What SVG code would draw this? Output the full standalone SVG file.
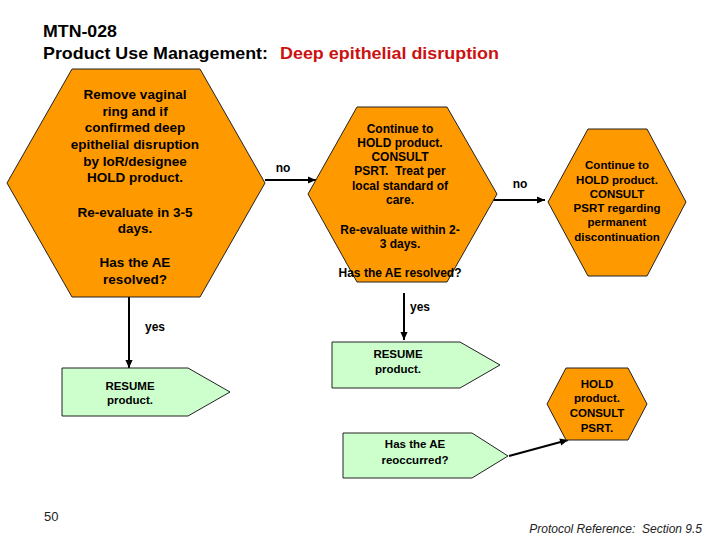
<svg xmlns="http://www.w3.org/2000/svg" width="720" height="540" viewBox="0 0 720 540">
<style>
.hex{fill:#FF9900;stroke:#222;stroke-width:1}
.pent{fill:#CCFFCC;stroke:#222;stroke-width:1}
.t{font-family:"Liberation Sans",Arial,sans-serif;font-weight:bold;fill:#000;text-anchor:middle}
.h1{font-size:13.5px}
.h2{font-size:12px}
.s{font-size:11.5px}
.lbl{font-family:"Liberation Sans",Arial,sans-serif;font-weight:bold;font-size:12px;fill:#000}
.title{font-family:"Liberation Sans",Arial,sans-serif;font-weight:bold;font-size:17px;fill:#000}
.conn{stroke:#000;stroke-width:2;fill:none}
</style>
<defs>
<marker id="ah" viewBox="0 0 10 10" refX="10" refY="5" markerWidth="9" markerHeight="8" markerUnits="userSpaceOnUse" orient="auto">
<path d="M0,0.5 L10,5 L0,9.5 z" fill="#000"/>
</marker>
</defs>
<rect width="720" height="540" fill="#fff"/>
<g id="title">
<text class="title" x="43" y="37" textLength="74" lengthAdjust="spacingAndGlyphs">MTN-028</text>
<text class="title" x="43" y="59" textLength="225" lengthAdjust="spacingAndGlyphs">Product Use Management:</text>
<text class="title" x="280" y="59" fill="#CC1111" style="fill:#CC1111" textLength="219" lengthAdjust="spacingAndGlyphs">Deep epithelial disruption</text>
</g>
<g id="connectors">
<line class="conn" x1="265" y1="180" x2="316" y2="180" marker-end="url(#ah)"/>
<line class="conn" x1="487" y1="200" x2="545" y2="200" marker-end="url(#ah)"/>
<line class="conn" x1="129" y1="297" x2="129" y2="368" marker-end="url(#ah)"/>
<line class="conn" x1="404" y1="293" x2="404" y2="340" marker-end="url(#ah)"/>
<line class="conn" x1="509" y1="456" x2="568" y2="440" marker-end="url(#ah)"/>
<text class="lbl" x="283" y="172" text-anchor="middle">no</text>
<text class="lbl" x="520" y="188" text-anchor="middle">no</text>
<text class="lbl" x="155" y="331" text-anchor="middle">yes</text>
<text class="lbl" x="420" y="311" text-anchor="middle">yes</text>
</g>
<g id="hex1">
<polygon class="hex" points="72,69 200,69 265,183 200,297 72,297 7,183"/>
<text class="t h1" x="135" y="99">Remove vaginal</text>
<text class="t h1" x="135" y="116">ring and if</text>
<text class="t h1" x="135" y="132">confirmed deep</text>
<text class="t h1" x="135" y="149">epithelial disruption</text>
<text class="t h1" x="135" y="166">by IoR/designee</text>
<text class="t h1" x="135" y="182">HOLD product.</text>
<text class="t h1" x="135" y="217">Re-evaluate in 3-5</text>
<text class="t h1" x="135" y="233">days.</text>
<text class="t h1" x="135" y="267">Has the AE</text>
<text class="t h1" x="135" y="284">resolved?</text>
</g>
<g id="hex2">
<polygon class="hex" points="357,107 447,107 497,194 447,282 357,282 308,194"/>
<text class="t h2" x="400" y="133">Continue to</text>
<text class="t h2" x="400" y="147">HOLD product.</text>
<text class="t h2" x="400" y="161">CONSULT</text>
<text class="t h2" x="400" y="175" xml:space="preserve">PSRT.  Treat per</text>
<text class="t h2" x="400" y="190">local standard of</text>
<text class="t h2" x="400" y="204">care.</text>
<text class="t h2" x="400" y="234">Re-evaluate within 2-</text>
<text class="t h2" x="400" y="248">3 days.</text>
<text class="t h2" x="400" y="277">Has the AE resolved?</text>
</g>
<g id="hex3">
<polygon class="hex" points="588,129 647,129 686,202 647,276 588,276 548,202"/>
<text class="t s" x="617" y="169">Continue to</text>
<text class="t s" x="617" y="184">HOLD product.</text>
<text class="t s" x="617" y="198">CONSULT</text>
<text class="t s" x="617" y="212">PSRT regarding</text>
<text class="t s" x="617" y="226">permanent</text>
<text class="t s" x="617" y="241">discontinuation</text>
</g>
<g id="resume1">
<polygon class="pent" points="62,368 188,368 230,392 188,416 62,416"/>
<text class="t s" x="130" y="390">RESUME</text>
<text class="t s" x="130" y="404">product.</text>
</g>
<g id="resume2">
<polygon class="pent" points="332,342 460,342 500,365 460,388 332,388"/>
<text class="t s" x="398" y="358">RESUME</text>
<text class="t s" x="398" y="373">product.</text>
</g>
<g id="hex4">
<polygon class="hex" points="566,368 628,368 647,404 628,440 566,440 547,404"/>
<text class="t s" x="597" y="388">HOLD</text>
<text class="t s" x="597" y="402">product.</text>
<text class="t s" x="597" y="417">CONSULT</text>
<text class="t s" x="597" y="432">PSRT.</text>
</g>
<g id="reoccur">
<polygon class="pent" points="343,433 472,433 508,456 472,478 343,478"/>
<text class="t s" x="415" y="448">Has the AE</text>
<text class="t s" x="415" y="464">reoccurred?</text>
</g>
<g id="footer">
<text x="44" y="521" font-family="'Liberation Sans',Arial,sans-serif" font-size="13" fill="#222">50</text>
<text x="702" y="533" text-anchor="end" font-family="'Liberation Sans',Arial,sans-serif" font-style="italic" font-size="12" fill="#222" xml:space="preserve">Protocol Reference:  Section 9.5</text>
</g>
</svg>
